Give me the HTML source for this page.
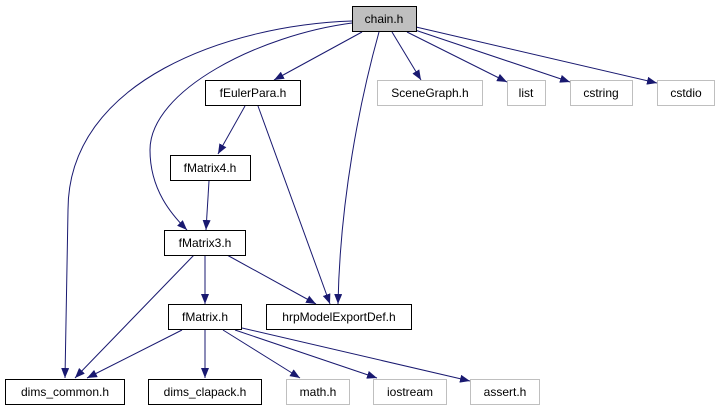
<!DOCTYPE html>
<html><head><meta charset="utf-8"><style>
html,body{margin:0;padding:0;background:#fff;}
svg text{font-family:"Liberation Sans",sans-serif;font-size:12px;text-anchor:middle;}
</style></head><body>
<svg width="716" height="411" viewBox="0 0 716 411" xmlns="http://www.w3.org/2000/svg">
<defs><marker id="a" markerWidth="10" markerHeight="8" refX="10" refY="4" orient="auto" markerUnits="userSpaceOnUse"><path d="M0,0 L10,4 L0,8 Z" fill="#191970"/></marker></defs>
<g fill="none" stroke="#191970" stroke-width="1" marker-end="url(#a)">
<path d="M352,21 C230,25 68,80 68,210 L65,378"/>
<path d="M352,23 C260,35 150,90 150,150 C150,190 172,215 187,230"/>
<path d="M362,32 L274,80"/>
<path d="M379,32 C360,100 340,200 338,304"/>
<path d="M392,32 L421,80"/>
<path d="M407,32 L507,82"/>
<path d="M415,30 L570,82"/>
<path d="M416,27 L657,83"/>
<path d="M245,106 L218,154"/>
<path d="M258,106 L330,304"/>
<path d="M209,181 L206,230"/>
<path d="M194,255 L75,378"/>
<path d="M205,255 L205,304"/>
<path d="M227,255 L316,304"/>
<path d="M182,330 L87,378"/>
<path d="M205,330 L205,378"/>
<path d="M223,330 L300,378"/>
<path d="M235,330 L377,378"/>
<path d="M242,328 L470,381"/>
</g>
<g stroke-width="1">
<rect x="352.5" y="6.5" width="64" height="25" fill="#bfbfbf" stroke="#000"/>
<rect x="205.5" y="80.5" width="95" height="25" fill="#fff" stroke="#000"/>
<rect x="377.5" y="80.5" width="105" height="25" fill="#fff" stroke="#bfbfbf"/>
<rect x="507.5" y="80.5" width="38" height="25" fill="#fff" stroke="#bfbfbf"/>
<rect x="570.5" y="80.5" width="62" height="25" fill="#fff" stroke="#bfbfbf"/>
<rect x="657.5" y="80.5" width="57" height="25" fill="#fff" stroke="#bfbfbf"/>
<rect x="170.5" y="155.5" width="80" height="25" fill="#fff" stroke="#000"/>
<rect x="164.5" y="230.5" width="81" height="25" fill="#fff" stroke="#000"/>
<rect x="168.5" y="304.5" width="73" height="25" fill="#fff" stroke="#000"/>
<rect x="266.5" y="304.5" width="145" height="25" fill="#fff" stroke="#000"/>
<rect x="5.5" y="379.5" width="119" height="25" fill="#fff" stroke="#000"/>
<rect x="148.5" y="379.5" width="113" height="25" fill="#fff" stroke="#000"/>
<rect x="286.5" y="379.5" width="63" height="25" fill="#fff" stroke="#bfbfbf"/>
<rect x="373.5" y="379.5" width="73" height="25" fill="#fff" stroke="#bfbfbf"/>
<rect x="470.5" y="379.5" width="69" height="25" fill="#fff" stroke="#bfbfbf"/>
</g>
<text x="384" y="23">chain.h</text>
<text x="253" y="97">fEulerPara.h</text>
<text x="430" y="97">SceneGraph.h</text>
<text x="526" y="97">list</text>
<text x="601" y="97">cstring</text>
<text x="686" y="97">cstdio</text>
<text x="210" y="172">fMatrix4.h</text>
<text x="205" y="247">fMatrix3.h</text>
<text x="205" y="321">fMatrix.h</text>
<text x="339" y="321">hrpModelExportDef.h</text>
<text x="65" y="396">dims_common.h</text>
<text x="205" y="396">dims_clapack.h</text>
<text x="318" y="396">math.h</text>
<text x="410" y="396">iostream</text>
<text x="505" y="396">assert.h</text>
</svg>
</body></html>
